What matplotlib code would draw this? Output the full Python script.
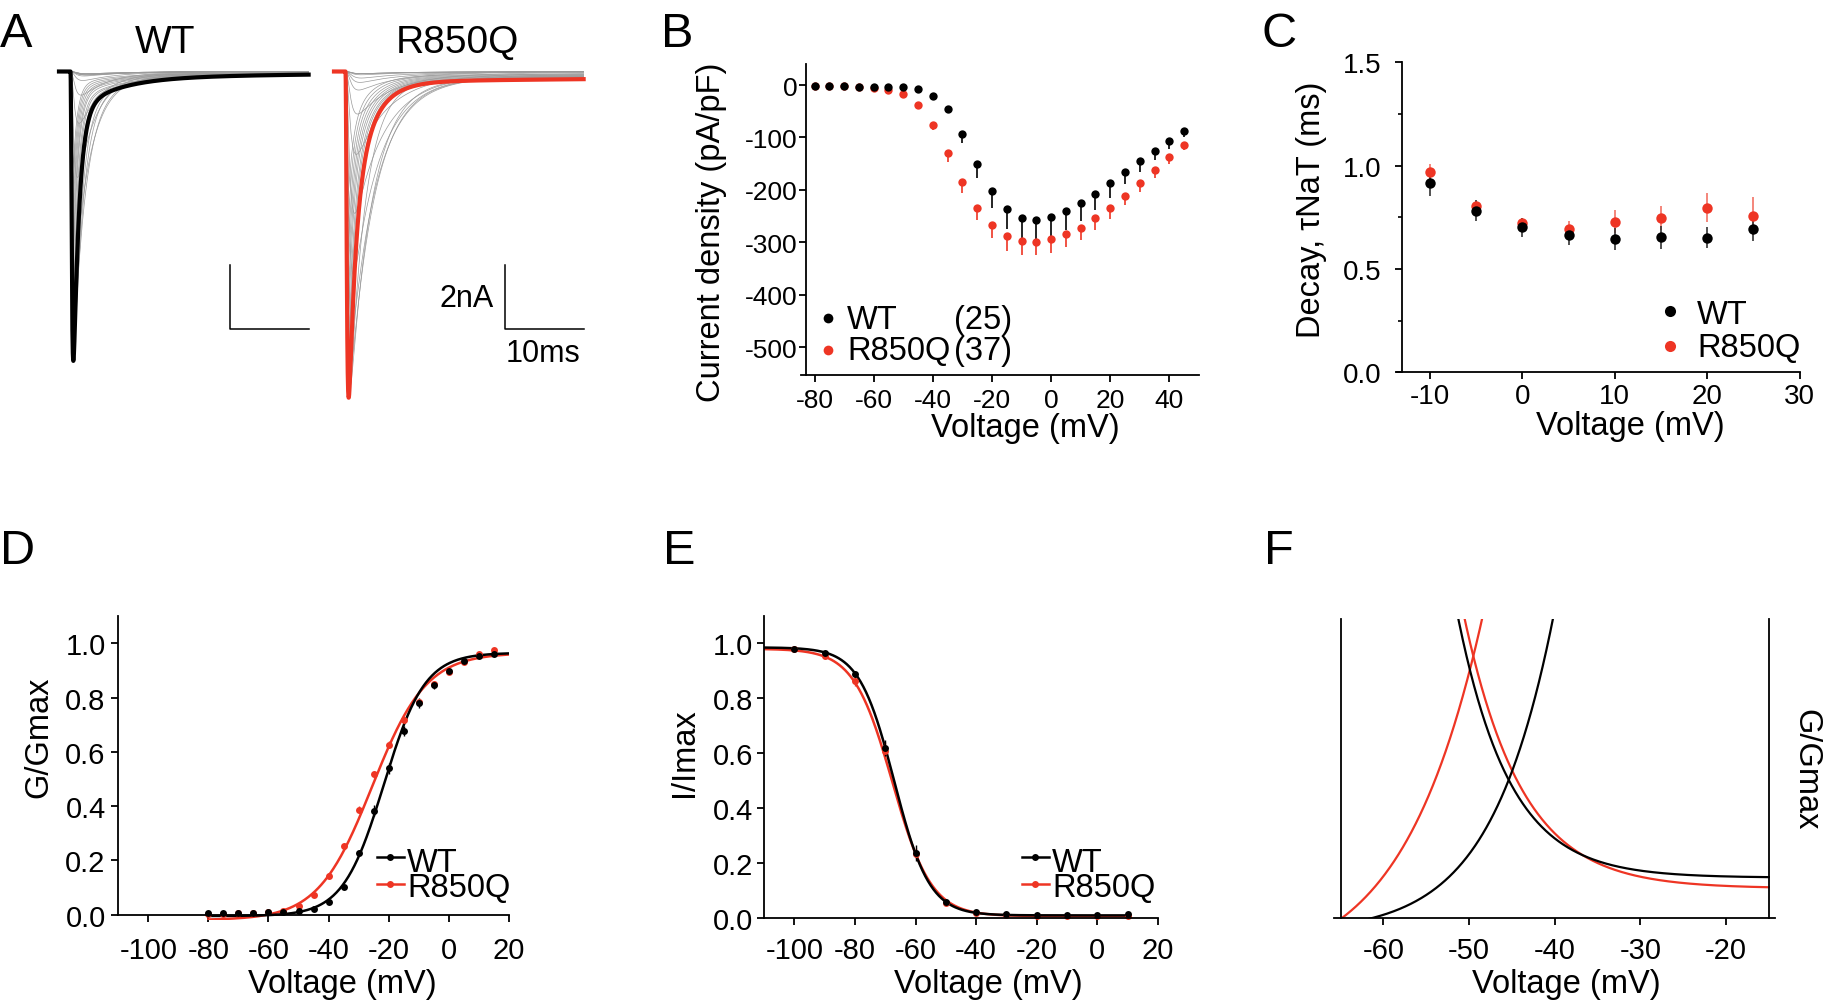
import numpy as np
import matplotlib
matplotlib.use("Agg")
import matplotlib.pyplot as plt

plt.rcParams["font.family"] = ["Liberation Sans", "DejaVu Sans"]
plt.rcParams["axes.unicode_minus"] = False

RED = "#ee3524"
W, H = 1824, 1003

# ---- B: current density vs voltage (pA/pF) ----
iv_volt = [-80, -75, -70, -65, -60, -55, -50, -45, -40, -35, -30, -25, -20,
           -15, -10, -5, 0, 5, 10, 15, 20, 25, 30, 35, 40, 45]
iv_wt = [-2, -2, -2, -3, -3, -3, -4, -8, -21, -46, -94, -151, -202,
         -236, -253, -257, -252, -241, -226, -208, -187, -166, -145, -126, -107, -88]
iv_wt_err = [0, 0, 0, 0, 0, 0, 1, 2, 4, 8, 17, 26, 33,
             38, 39, 38, 37, 36, 33, 30, 28, 23, 21, 17, 15, 11]
iv_r = [-2, -2, -2, -3, -6, -10, -17, -39, -76, -130, -186, -234, -267,
        -288, -298, -299, -294, -285, -272, -253, -234, -211, -187, -163, -138, -114]
iv_r_err = [0, 0, 0, 0, 1, 1, 2, 3, 10, 16, 21, 23, 25,
            28, 26, 26, 26, 24, 23, 23, 21, 18, 17, 14, 12, 10]

# ---- C: decay time constant (ms) ----
dec_volt = [-10, -5, 0, 5, 10, 15, 20, 25]
dec_wt = [0.915, 0.782, 0.702, 0.665, 0.645, 0.653, 0.652, 0.694]
dec_wt_err = [0.063, 0.052, 0.047, 0.048, 0.052, 0.055, 0.05, 0.06]
dec_r = [0.968, 0.806, 0.721, 0.694, 0.729, 0.747, 0.797, 0.756]
dec_r_err = [0.04, 0.025, 0.028, 0.036, 0.055, 0.06, 0.07, 0.09]

# ---- D: activation G/Gmax ----
gv_volt = [-80, -75, -70, -65, -60, -55, -50, -45, -40, -35, -30, -25, -20,
           -15, -10, -5, 0, 5, 10, 15]
gv_wt = [0.006, 0.006, 0.006, 0.007, 0.01, 0.011, 0.014, 0.022, 0.045, 0.102,
         0.227, 0.383, 0.539, 0.677, 0.78, 0.848, 0.897, 0.934, 0.952, 0.961]
gv_wt_err = [0.003, 0.003, 0.003, 0.003, 0.003, 0.003, 0.004, 0.005, 0.006, 0.008,
             0.012, 0.02, 0.02, 0.02, 0.02, 0.015, 0.008, 0.006, 0.005, 0.005]
gv_r = [0.004, 0.004, 0.005, 0.006, 0.01, 0.012, 0.033, 0.072, 0.143, 0.253,
        0.387, 0.517, 0.627, 0.719, 0.783, 0.85, 0.893, 0.93, 0.961, 0.977]
gv_r_err = [0.003, 0.003, 0.003, 0.003, 0.003, 0.004, 0.006, 0.008, 0.012, 0.012,
            0.012, 0.014, 0.012, 0.01, 0.008, 0.006, 0.006, 0.005, 0.005, 0.005]
# boltzmann fits: bottom, top, V1/2, slope
fit_act_wt = [-0.005, 0.965, -21.6, 6.8]
fit_act_r = [-0.02, 0.965, -25.5, 9.0]

# ---- E: steady-state inactivation I/Imax ----
ss_volt = [-100, -90, -80, -70, -60, -50, -40, -30, -20, -10, 0, 10]
ss_wt = [0.979, 0.965, 0.889, 0.618, 0.237, 0.057, 0.021, 0.013, 0.011, 0.011, 0.011, 0.013]
ss_wt_err = [0.004, 0.005, 0.01, 0.03, 0.03, 0.006, 0.004, 0.003, 0.003, 0.003, 0.003, 0.003]
ss_r = [0.979, 0.953, 0.864, 0.609, 0.233, 0.055, 0.018, 0.011, 0.009, 0.008, 0.008, 0.009]
ss_r_err = [0.004, 0.01, 0.02, 0.03, 0.02, 0.006, 0.004, 0.003, 0.003, 0.003, 0.003, 0.003]
fit_inact_wt = [0.0095, 0.985, -67.0, 5.8]
fit_inact_r = [0.007, 0.98, -67.6, 6.4]

# ---- F: window current, activation fits used for the overlap ----
win_act_wt = [-0.0035, 0.9665, -23.2, 6.8]
win_act_r = [-0.013, 0.972, -28.2, 8.5]

# ---- A: example sweeps (built from IV peaks x cell capacitance) ----
a_cap_wt = 35.2   # pF
a_cap_r = 34.1
a_t0 = 1.45       # ms, step onset
a_tau_m = [0.6, 0.6, 0.6, 0.6, 0.6, 0.55, 0.5, 0.45, 0.4, 0.33, 0.27, 0.22, 0.18,
           0.15, 0.13, 0.12, 0.11, 0.1, 0.09, 0.09, 0.08, 0.08, 0.08, 0.08, 0.08, 0.08]
a_tau_h_wt = [6.0, 6.0, 6.0, 6.0, 6.0, 5.5, 5.0, 4.5, 3.5, 2.8, 2.2, 2.0, 1.6,
              1.2, 1.0, 0.7, 0.75, 0.7, 0.65, 0.62, 0.6, 0.6, 0.58, 0.56, 0.55, 0.55]
a_tau_h_r = [8.0, 8.0, 8.0, 8.0, 7.5, 7.0, 6.0, 5.5, 5.0, 4.5, 4.0, 3.8, 3.5,
             3.0, 1.8, 0.85, 1.0, 0.9, 0.8, 0.75, 0.7, 0.68, 0.66, 0.65, 0.65, 0.65]
a_slow_wt = [0.07, 5.0, 0.012, 40.0]   # slow frac, tau, persistent frac, tau
a_slow_r = [0.31, 2.5, 0.02, 100.0]


def boltz_up(v, p):
    b, t, vh, k = p
    return b + (t - b) / (1 + np.exp((vh - v) / k))


def boltz_down(v, p):
    b, t, vh, k = p
    return b + (t - b) / (1 + np.exp((v - vh) / k))


fig = plt.figure(figsize=(W / 100, H / 100), dpi=100)


def rect(x0, x1, yt, yb):
    return [x0 / W, 1 - yb / H, (x1 - x0) / W, (yb - yt) / H]


def style(ax, size=20):
    for s in ["top", "right"]:
        ax.spines[s].set_visible(False)
    for s in ["left", "bottom"]:
        ax.spines[s].set_linewidth(1.3)
    ax.tick_params(labelsize=size, width=1.3, length=5, direction="out")


# ---------------- A ----------------
t = np.linspace(0, 31.6, 3000)


def sweep(peak, tm, th, slow):
    tt = np.clip(t - a_t0, 0, None)
    m = 1 - np.exp(-tt / tm)
    h = ((1 - slow[0] - slow[2]) * np.exp(-tt / th)
         + slow[0] * np.exp(-tt / slow[1]) + slow[2] * np.exp(-tt / slow[3]))
    s = m ** 3 * h
    return peak * s / s.max()


for x0, iv, cap, taus, slow, col in [(50, iv_wt, a_cap_wt, a_tau_h_wt, a_slow_wt, "black"),
                                     (325, iv_r, a_cap_r, a_tau_h_r, a_slow_r, RED)]:
    ax = fig.add_axes(rect(x0, x0 + 270, 55, 410))
    ax.set_xlim(-1.139, 33.04)
    ax.set_ylim(-10.55, 0.547)
    ax.axis("off")
    big = int(np.argmin(iv))
    for i in range(len(iv)):
        ax.plot(t, sweep(iv[i] * cap / 1000, a_tau_m[i], taus[i], slow),
                color="#9a9a9a", lw=0.5)
    ax.plot(t, sweep(iv[big] * cap / 1000, a_tau_m[big], taus[big], slow),
            color=col, lw=3)
    # scale bar 2 nA / 10 ms
    ax.plot([21.6, 21.6, 31.6], [-6.05, -8.05, -8.05], color="black", lw=1.1)

# ---------------- B ----------------
axB = fig.add_axes(rect(800.7, 1198.6, 65, 376))
style(axB, 19)
axB.set_xlim(-84.7, 49.9)
axB.set_ylim(-553.4, 40.1)
axB.spines["left"].set_position(("data", -83))
n = len(iv_volt)
axB.errorbar(iv_volt, iv_r, yerr=[iv_r_err, [0] * n], fmt="o", color=RED, ms=6,
             mew=0, capsize=4, elinewidth=1.2, capthick=1.2)
axB.errorbar(iv_volt, iv_wt, yerr=[iv_wt_err, [0] * n], fmt="o", color="black", ms=6,
             mew=0, capsize=4, elinewidth=1.2, capthick=1.2)
axB.set_xticks([-80, -60, -40, -20, 0, 20, 40])
axB.set_yticks([0, -100, -200, -300, -400, -500])
axB.tick_params(axis="y", pad=1)
axB.tick_params(axis="x", pad=4)

# ---------------- C ----------------
axC = fig.add_axes(rect(1396.7, 1799.6, 63.3, 373.3))
style(axC, 20)
axC.set_xlim(-13.6, 30)
axC.set_ylim(0, 1.5)
axC.spines["left"].set_position(("data", -13))
axC.errorbar(dec_volt, dec_r, yerr=dec_r_err, fmt="o", color=RED, ms=7.5, mew=0,
             capsize=4, elinewidth=1.2, capthick=1.2, ecolor=(0.93, 0.21, 0.14, 0.7))
axC.errorbar(dec_volt, dec_wt, yerr=dec_wt_err, fmt="o", color="black", ms=7.5, mew=0,
             capsize=4, elinewidth=1.2, capthick=1.2, ecolor="#333333")
axC.set_xticks([-10, 0, 10, 20, 30])
axC.set_yticks([0, 0.5, 1.0, 1.5])
axC.set_yticklabels(["0.0", "0.5", "1.0", "1.5"])
axC.set_yticks([0.25, 0.75, 1.25], minor=True)
axC.tick_params(axis="y", which="minor", length=3, width=1.2)
axC.tick_params(axis="y", pad=10)
axC.tick_params(axis="x", pad=3)

# ---------------- D ----------------
axD = fig.add_axes(rect(118.2, 508.9, 617.2, 921.1))
style(axD, 21)
axD.set_xlim(-110, 20)
axD.set_ylim(-0.02, 1.1)
axD.spines["bottom"].set_position(("data", 0))
axD.spines["left"].set_bounds(0, 1.1)
vd = np.linspace(-80, 20, 400)
axD.plot(vd, boltz_up(vd, fit_act_r), color=RED, lw=1.8)
axD.plot(vd, boltz_up(vd, fit_act_wt), color="black", lw=1.8)
axD.errorbar(gv_volt, gv_r, yerr=gv_r_err, fmt="o", color=RED, ms=5, mew=0,
             capsize=3, elinewidth=1.0, capthick=1.0)
axD.errorbar(gv_volt, gv_wt, yerr=gv_wt_err, fmt="o", color="black", ms=5, mew=0,
             capsize=3, elinewidth=1.0, capthick=1.0)
axD.set_xticks([-100, -80, -60, -40, -20, 0, 20])
axD.set_yticks([0, 0.2, 0.4, 0.6, 0.8, 1.0])
axD.set_yticklabels(["0.0", "0.2", "0.4", "0.6", "0.8", "1.0"])
axD.tick_params(axis="x", pad=10)
axD.tick_params(axis="y", pad=4)

# ---------------- E ----------------
axE = fig.add_axes(rect(764, 1157.9, 616.8, 924.5))
style(axE, 21)
axE.set_xlim(-110, 20)
axE.set_ylim(-0.02, 1.1)
axE.spines["bottom"].set_position(("data", 0))
axE.spines["left"].set_bounds(0, 1.1)
ve = np.linspace(-110, 10, 400)
axE.plot(ve, boltz_down(ve, fit_inact_r), color=RED, lw=1.8)
axE.plot(ve, boltz_down(ve, fit_inact_wt), color="black", lw=1.8)
axE.errorbar(ss_volt, ss_r, yerr=ss_r_err, fmt="o", color=RED, ms=5, mew=0,
             capsize=3, elinewidth=1.0, capthick=1.0)
axE.errorbar(ss_volt, ss_wt, yerr=ss_wt_err, fmt="o", color="black", ms=5, mew=0,
             capsize=3, elinewidth=1.0, capthick=1.0)
axE.set_xticks([-100, -80, -60, -40, -20, 0, 20])
axE.set_yticks([0, 0.2, 0.4, 0.6, 0.8, 1.0])
axE.set_yticklabels(["0.0", "0.2", "0.4", "0.6", "0.8", "1.0"])
axE.tick_params(axis="x", pad=8)
axE.tick_params(axis="y", pad=3)

# ---------------- F ----------------
axF = fig.add_axes(rect(1334.2, 1775.2, 620, 919.3))
style(axF, 21)
axF.spines["right"].set_visible(True)
axF.spines["right"].set_linewidth(1.3)
axF.set_xlim(-65.74, -14.26)
axF.set_ylim(0, 0.07)
axF.spines["left"].set_position(("data", -65))
axF.spines["right"].set_position(("data", -15))
vf = np.linspace(-65, -15, 800)
axF.plot(vf, boltz_up(vf, win_act_r), color=RED, lw=1.6)
axF.plot(vf, boltz_down(vf, fit_inact_r), color=RED, lw=1.6)
axF.plot(vf, boltz_up(vf, win_act_wt), color="black", lw=1.6)
axF.plot(vf, boltz_down(vf, fit_inact_wt), color="black", lw=1.6)
axF.set_xticks([-60, -50, -40, -30, -20])
axF.set_yticks([])
axF.tick_params(axis="x", pad=8)

# ---------------- labels, legends (pixel overlay) ----------------
ov = fig.add_axes([0, 0, 1, 1], zorder=10)
ov.set_xlim(0, W)
ov.set_ylim(H, 0)
ov.axis("off")
ov.patch.set_visible(False)

LAB = 23.5
for x, y, s in [(0, 47, "A"), (661, 47, "B"), (1262, 47, "C"),
                (0, 564, "D"), (663, 564, "E"), (1264, 564, "F")]:
    ov.text(x, y, s, fontsize=35, va="baseline", ha="left")

ov.text(165, 53, "WT", fontsize=28, ha="center", va="baseline")
ov.text(457, 53, "R850Q", fontsize=28, ha="center", va="baseline")
ov.text(494, 307, "2nA", fontsize=22, ha="right", va="baseline")
ov.text(543, 362, "10ms", fontsize=22, ha="center", va="baseline")

ov.text(712, 232, "Current density (pA/pF)", fontsize=LAB, rotation=90, ha="center", va="center")
ov.text(1025, 428, "Voltage (mV)", fontsize=LAB, ha="center", va="center")
ov.text(1312, 210, "Decay, τNaT (ms)", fontsize=LAB, rotation=90, ha="center", va="center")
ov.text(1630, 426, "Voltage (mV)", fontsize=LAB, ha="center", va="center")
ov.text(39, 737, "G/Gmax", fontsize=LAB, rotation=90, ha="center", va="center")
ov.text(342, 985, "Voltage (mV)", fontsize=LAB, ha="center", va="center")
ov.text(685, 753, "I/Imax", fontsize=LAB, rotation=90, ha="center", va="center")
ov.text(988, 985, "Voltage (mV)", fontsize=LAB, ha="center", va="center")
ov.text(1566, 985, "Voltage (mV)", fontsize=LAB, ha="center", va="center")
ov.text(1806, 770, "G/Gmax", fontsize=LAB, rotation=270, ha="center", va="center")

LEG = 23.5
# B legend (multi-line text: baseline given for the last line)
ov.plot([828], [319], "o", color="black", ms=7, mew=0)
ov.plot([828], [351], "o", color=RED, ms=7, mew=0)
ov.text(847, 360, "WT\nR850Q", fontsize=LEG, va="baseline", linespacing=1.0)
ov.text(954, 360, "(25)\n(37)", fontsize=LEG, va="baseline", linespacing=1.0)
# C legend
ov.plot([1670], [312], "o", color="black", ms=8, mew=0)
ov.plot([1670], [347], "o", color=RED, ms=8, mew=0)
ov.text(1697, 357, "WT\nR850Q", fontsize=LEG, va="baseline", linespacing=1.1)
# D / E legends
for lx in [377, 1022]:
    ov.plot([lx, lx + 27], [858, 858], color="black", lw=1.8)
    ov.plot([lx + 13.5], [858], "o", color="black", ms=5, mew=0)
    ov.plot([lx, lx + 27], [885, 885], color=RED, lw=1.8)
    ov.plot([lx + 13.5], [885], "o", color=RED, ms=5, mew=0)
    ov.text(lx + 30, 897, "WT\nR850Q", fontsize=LEG, va="baseline", linespacing=0.76)

fig.savefig("out.png", dpi=100)
